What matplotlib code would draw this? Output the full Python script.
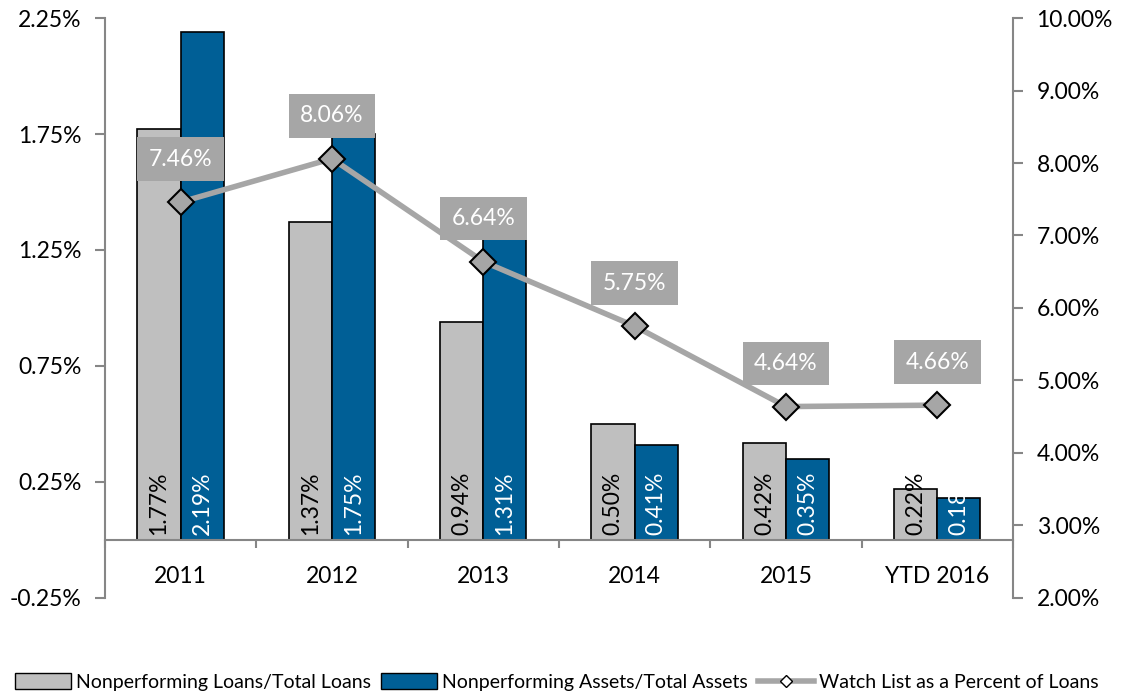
import matplotlib.pyplot as plt
from matplotlib.patches import Patch
from matplotlib.lines import Line2D
from matplotlib.ticker import FuncFormatter
import numpy as np

plt.rcParams["font.family"] = ["Lato", "DejaVu Sans"]

# Data
years = ["2011", "2012", "2013", "2014", "2015", "YTD 2016"]
np_loans = [1.77, 1.37, 0.94, 0.50, 0.42, 0.22]
np_assets = [2.19, 1.75, 1.31, 0.41, 0.35, 0.18]
watch_list = [7.46, 8.06, 6.64, 5.75, 4.64, 4.66]

GRAY = "#bfbfbf"
BLUE = "#005f96"
LINE = "#a6a6a6"
AXIS = "#868686"
FS = 16.5

fig = plt.figure(figsize=(11.25, 6.98), dpi=100)
ax = fig.add_axes([0.0933, 0.1433, 0.8071, 0.8309])

x = np.arange(len(years))
width = 0.285
bars1 = ax.bar(x - width / 2, np_loans, width, color=GRAY, edgecolor="black", linewidth=1.2)
bars2 = ax.bar(x + width / 2, np_assets, width, color=BLUE, edgecolor="black", linewidth=1.2)

for bar, val in zip(bars1, np_loans):
    ax.text(bar.get_x() + bar.get_width() / 2, 0.02, f"{val:.2f}%", rotation=90,
            ha="center", va="bottom", fontsize=FS, color="black")
for bar, val in zip(bars2, np_assets):
    ax.text(bar.get_x() + bar.get_width() / 2, 0.02, f"{val:.2f}%", rotation=90,
            ha="center", va="bottom", fontsize=FS, color="white")

ax.set_xlim(-0.5, len(years) - 0.5)
ax.set_ylim(-0.25, 2.25)
ax.set_yticks([-0.25, 0.25, 0.75, 1.25, 1.75, 2.25])
ax.yaxis.set_major_formatter(FuncFormatter(lambda v, p: f"{v:.2f}%"))

ax.spines["top"].set_visible(False)
ax.spines["right"].set_visible(False)
ax.spines["left"].set_color(AXIS)
ax.spines["left"].set_linewidth(1.5)
ax.spines["bottom"].set_position(("data", 0))
ax.spines["bottom"].set_color(AXIS)
ax.spines["bottom"].set_linewidth(1.5)

ax.set_xticks(x)
ax.set_xticklabels(years)
ax.set_xticks(np.arange(-0.5, len(years)), minor=True)
ax.tick_params(axis="x", which="major", length=0, pad=19, labelsize=FS)
ax.tick_params(axis="x", which="minor", length=6, width=1.5, color=AXIS, direction="out")
ax.tick_params(axis="y", length=7, width=1.5, color=AXIS, pad=10, labelsize=FS)

ax2 = ax.twinx()
ax2.set_position(ax.get_position())
ax2.set_ylim(2, 10)
ax2.set_yticks(np.arange(2, 11, 1))
ax2.yaxis.set_major_formatter(FuncFormatter(lambda v, p: f"{v:.2f}%"))
for s in ["top", "left", "bottom"]:
    ax2.spines[s].set_visible(False)
ax2.spines["right"].set_color(AXIS)
ax2.spines["right"].set_linewidth(1.5)
ax2.tick_params(axis="y", length=7, width=1.5, color=AXIS, pad=10, labelsize=FS)

ax2.plot(x, watch_list, color=LINE, linewidth=4, marker="D", markersize=13,
         markerfacecolor=LINE, markeredgecolor="black", markeredgewidth=1.5, zorder=3)
for xi, val in zip(x, watch_list):
    ax2.annotate(f"{val:.2f}%", (xi, val), xytext=(0, 31), textcoords="offset points",
                 ha="center", va="center", fontsize=FS, color="white",
                 bbox=dict(boxstyle="square,pad=0.5", facecolor=LINE, edgecolor="none"))

handles = [
    Patch(facecolor=GRAY, edgecolor="black", label="Nonperforming Loans/Total Loans"),
    Patch(facecolor=BLUE, edgecolor="black", label="Nonperforming Assets/Total Assets"),
    Line2D([0], [0], color=LINE, linewidth=4, marker="D", markersize=6,
           markerfacecolor="white", markeredgecolor="black",
           label="Watch List as a Percent of Loans"),
]
fig.legend(handles=handles, loc="lower center", bbox_to_anchor=(0.495, -0.015), ncol=3,
           frameon=False, fontsize=14, handlelength=2.9, handleheight=0.9,
           columnspacing=0.5, handletextpad=0.25)

fig.savefig("out.png", dpi=100)
